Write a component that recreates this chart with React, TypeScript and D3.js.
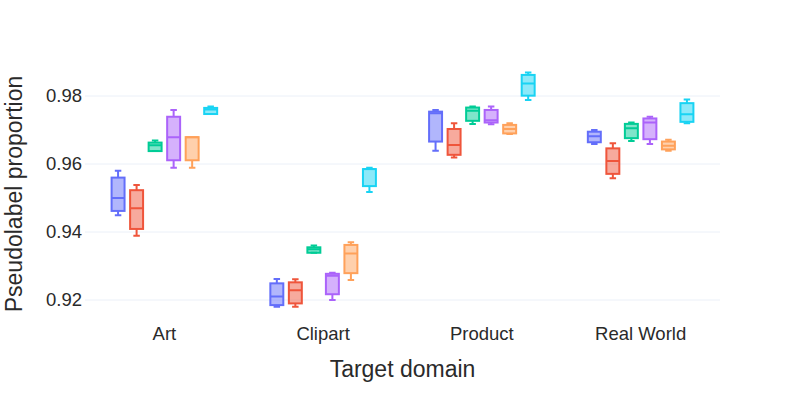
import React, { useRef, useEffect } from "react";
import * as d3 from "d3";

const categories = ["Art", "Clipart", "Product", "Real World"];
const seriesNames = ["s1", "s2", "s3", "s4", "s5", "s6"];
const colors = ["#636efa", "#EF553B", "#00cc96", "#ab63fa", "#FFA15A", "#19d3f3"];
const yTicks = [0.92, 0.94, 0.96, 0.98];

// each entry: [min, q1, median, q3, max], one per category
const s1 = [
  [0.9449, 0.9462, 0.95, 0.956, 0.958],
  [0.918, 0.9185, 0.921, 0.9249, 0.9262],
  [0.9639, 0.9666, 0.9749, 0.9754, 0.9759],
  [0.9659, 0.9664, 0.9682, 0.9695, 0.97],
];
const s2 = [
  [0.9389, 0.9409, 0.947, 0.9523, 0.9538],
  [0.918, 0.919, 0.9229, 0.9252, 0.9261],
  [0.9619, 0.9627, 0.9656, 0.9703, 0.972],
  [0.9558, 0.9571, 0.9609, 0.9646, 0.9661],
];
const s3 = [
  [0.9638, 0.9638, 0.9655, 0.9663, 0.9669],
  [0.9339, 0.9339, 0.9349, 0.9355, 0.936],
  [0.9718, 0.9727, 0.9757, 0.9766, 0.9769],
  [0.9668, 0.9676, 0.9705, 0.9718, 0.9722],
];
const s4 = [
  [0.9589, 0.9611, 0.9679, 0.9739, 0.9759],
  [0.92, 0.9217, 0.9271, 0.9277, 0.928],
  [0.9717, 0.9722, 0.9729, 0.9759, 0.9769],
  [0.9659, 0.9673, 0.9722, 0.9734, 0.9739],
];
const s5 = [
  [0.9589, 0.9611, 0.9679, 0.9679, 0.9679],
  [0.9259, 0.9279, 0.9337, 0.9362, 0.937],
  [0.9688, 0.969, 0.9703, 0.9715, 0.972],
  [0.9639, 0.9643, 0.9654, 0.9666, 0.9671],
];
const s6 = [
  [0.9747, 0.9747, 0.976, 0.9765, 0.9769],
  [0.9518, 0.9535, 0.9585, 0.9585, 0.9589],
  [0.9788, 0.9801, 0.9837, 0.9862, 0.9869],
  [0.972, 0.9724, 0.9746, 0.9779, 0.979],
];
const seriesData = [s1, s2, s3, s4, s5, s6];

const WIDTH = 800;
const HEIGHT = 400;
const margins = { top: 60, left: 85, right: 80, bottom: 80 };
const FONT = "Arial, 'Liberation Sans', sans-serif";

const App = () => {
  const svgRef = useRef<SVGSVGElement>(null);

  useEffect(() => {
    document.body.style.margin = "0";
    document.body.style.overflow = "hidden";
    const svg = d3.select(svgRef.current);
    svg.selectAll("*").remove();

    const plotLeft = margins.left;
    const plotRight = WIDTH - margins.right;
    const plotTop = margins.top;
    const plotBottom = HEIGHT - margins.bottom;

    const yScale = d3
      .scaleLinear()
      .domain([0.91412, 0.99059])
      .range([plotBottom, plotTop]);

    const xScale = d3.scaleBand().domain(categories).range([plotLeft, plotRight]);
    const bw = xScale.bandwidth();

    // boxgap 0.3 -> groups take 70% of each band
    const inner = d3
      .scaleBand()
      .domain(seriesNames)
      .range([bw * 0.15, bw * 0.85]);
    const boxW = inner.bandwidth() * 0.7;
    const capW = boxW * 0.5;

    //gridlines
    svg
      .append("g")
      .selectAll("line")
      .data(yTicks)
      .enter()
      .append("line")
      .attr("x1", plotLeft)
      .attr("x2", plotRight)
      .attr("y1", (d) => yScale(d))
      .attr("y2", (d) => yScale(d))
      .attr("stroke", "#EBF0F8")
      .attr("stroke-width", 1);

    //y tick labels
    svg
      .append("g")
      .selectAll("text")
      .data(yTicks)
      .enter()
      .append("text")
      .attr("x", plotLeft - 3)
      .attr("y", (d) => yScale(d))
      .attr("dy", "0.35em")
      .attr("text-anchor", "end")
      .attr("font-family", FONT)
      .attr("font-size", 18.5)
      .attr("fill", "#2a2a2a")
      .text((d) => d3.format(".2f")(d));

    //x tick labels
    svg
      .append("g")
      .selectAll("text")
      .data(categories)
      .enter()
      .append("text")
      .attr("x", (d) => (xScale(d) as number) + bw / 2)
      .attr("y", plotBottom + 14)
      .attr("dy", "0.35em")
      .attr("text-anchor", "middle")
      .attr("font-family", FONT)
      .attr("font-size", 18.5)
      .attr("fill", "#2a2a2a")
      .text((d) => d);

    //boxes
    seriesData.forEach((rows, si) => {
      const color = colors[si];
      const g = svg.append("g").attr("class", "series-" + si);
      rows.forEach((stats, ci) => {
        const [mn, q1, med, q3, mx] = stats;
        const cx =
          (xScale(categories[ci]) as number) +
          (inner(seriesNames[si]) as number) +
          inner.bandwidth() / 2;
        const x0 = cx - boxW / 2;
        const x1 = cx + boxW / 2;
        const path = d3.path();
        // whiskers
        path.moveTo(cx, yScale(q3));
        path.lineTo(cx, yScale(mx));
        path.moveTo(cx - capW / 2, yScale(mx));
        path.lineTo(cx + capW / 2, yScale(mx));
        path.moveTo(cx, yScale(q1));
        path.lineTo(cx, yScale(mn));
        path.moveTo(cx - capW / 2, yScale(mn));
        path.lineTo(cx + capW / 2, yScale(mn));
        // median
        path.moveTo(x0, yScale(med));
        path.lineTo(x1, yScale(med));

        g.append("rect")
          .attr("x", x0)
          .attr("y", yScale(q3))
          .attr("width", boxW)
          .attr("height", Math.max(0.5, yScale(q1) - yScale(q3)))
          .attr("fill", color)
          .attr("fill-opacity", 0.5)
          .attr("stroke", color)
          .attr("stroke-width", 2);
        g.append("path")
          .attr("d", path.toString())
          .attr("fill", "none")
          .attr("stroke", color)
          .attr("stroke-width", 2);
      });
    });

    //axis titles
    svg
      .append("text")
      .attr("x", (plotLeft + plotRight) / 2)
      .attr("y", 369)
      .attr("dy", "0.35em")
      .attr("text-anchor", "middle")
      .attr("font-family", FONT)
      .attr("font-size", 23)
      .attr("fill", "#2a2a2a")
      .text("Target domain");

    svg
      .append("text")
      .attr("transform", `translate(14,${(plotTop + plotBottom) / 2 + 4}) rotate(-90)`)
      .attr("dy", "0.35em")
      .attr("text-anchor", "middle")
      .attr("font-family", FONT)
      .attr("font-size", 23)
      .attr("fill", "#2a2a2a")
      .text("Pseudolabel proportion");
  }, []);

  return (
    <div>
      <svg ref={svgRef} width={WIDTH} height={HEIGHT} style={{ display: "block", background: "#fff" }}></svg>
    </div>
  );
};

export default App;
